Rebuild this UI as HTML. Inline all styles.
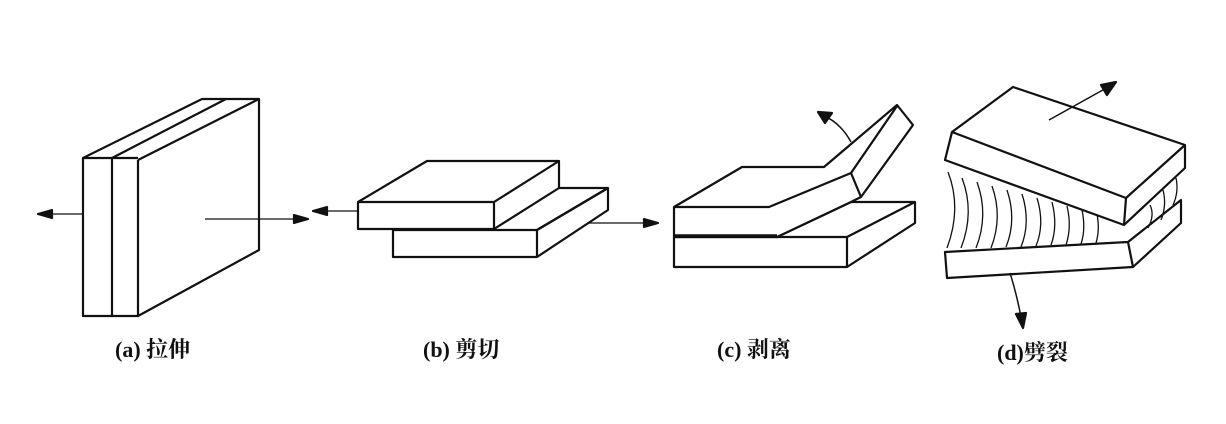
<!DOCTYPE html>
<html><head><meta charset="utf-8"><style>
html,body{margin:0;padding:0;background:#fff;}
svg{display:block}
text{font-family:"Liberation Serif","Noto Serif CJK SC",serif;font-size:22px;font-weight:bold;fill:#111}
</style></head><body>
<svg width="1226" height="424" viewBox="0 0 1226 424" xmlns="http://www.w3.org/2000/svg">
<g fill="#fff" stroke="#111" stroke-width="2.2" stroke-linejoin="round">
<!-- (a) -->
<polygon points="83,158 202,99 259,99 259,250 138,316 83,316"/>
<line x1="112" y1="158" x2="112" y2="316"/>
<line x1="138" y1="160" x2="138" y2="316"/>
<line x1="83" y1="158" x2="138" y2="158"/>
<line x1="112" y1="158" x2="226" y2="99"/>
<line x1="138" y1="160" x2="259" y2="99"/>
<line x1="38" y1="214" x2="83" y2="214" stroke-width="1.3"/>
<polygon points="38,214 52,210 52,218" fill="#111"/>
<line x1="205" y1="219" x2="308" y2="219" stroke-width="1.3"/>
<polygon points="308,219 294,215 294,223" fill="#111"/>
<!-- (b) -->
<polygon points="393,230 537,230 608,188 608,210 537,257 393,257"/>
<line x1="537" y1="230" x2="537" y2="257"/>
<line x1="537" y1="230" x2="608" y2="188"/>
<polygon points="358,202 427,161 559,161 559,188 494,229 358,229"/>
<line x1="494" y1="202" x2="559" y2="161"/>
<line x1="494" y1="202" x2="358" y2="202"/>
<line x1="494" y1="202" x2="494" y2="229"/>
<line x1="559" y1="188" x2="608" y2="188"/>
<line x1="313" y1="211" x2="358" y2="211" stroke-width="1.3"/>
<polygon points="313,211 327,207 327,215" fill="#111"/>
<line x1="587" y1="223" x2="658" y2="223" stroke-width="1.3"/>
<polygon points="658,223 644,219 644,227" fill="#111"/>
<!-- (c) -->
<polygon points="674,237 777,237 851,202 915,202 915,223 847,267 674,267"/>
<line x1="777" y1="237" x2="847" y2="237"/>
<line x1="847" y1="237" x2="915" y2="202"/>
<line x1="847" y1="237" x2="847" y2="267"/>
<polygon points="674,207 742,167 824,167 897,105 913,125 861,197 851,202 777,237 674,237"/>
<polyline points="674,207 769,207 851,173 897,106" fill="none"/>
<line x1="851" y1="173" x2="861" y2="197"/>
<line x1="674" y1="236" x2="777" y2="236" stroke-width="3.5"/>
<path d="M851,142 Q840,122 822,115" fill="none" stroke-width="1.5"/>
<polygon points="818,112 832,113 825,123" fill="#111"/>
<!-- (d) -->
<polygon points="945,252 1128,242 1181,200 1181,223 1133,267 947,278"/>
<line x1="1128" y1="242" x2="1133" y2="267"/>
<g fill="none" stroke-width="1.3">
<path d="M948,172 Q962,208 947,248"/>
<path d="M962,178 Q975,212 961,248"/>
<path d="M977,182 Q989,215 976,248"/>
<path d="M992,186 Q1003,217 991,248"/>
<path d="M1007,190 Q1017,220 1006,247"/>
<path d="M1022,194 Q1031,222 1021,247"/>
<path d="M1037,198 Q1045,224 1036,246"/>
<path d="M1052,202 Q1058,226 1051,245"/>
<path d="M1067,206 Q1072,227 1066,245"/>
<path d="M1082,210 Q1086,229 1081,244"/>
<path d="M1097,214 Q1100,230 1096,243"/>
<path d="M1150,205 Q1155,215 1148,228"/>
<path d="M1163,190 Q1167,205 1161,220"/>
<path d="M1176,178 Q1179,192 1173,205"/>
</g>
<polygon points="952,132 1013,87 1185,145 1185,168 1124,225 945,160"/>
<polyline points="952,132 1126,198 1185,145" fill="none"/>
<line x1="1126" y1="198" x2="1124" y2="225"/>
<line x1="1049" y1="120" x2="1110" y2="86" stroke-width="1.5"/>
<polygon points="1116,82 1101,85 1107,95" fill="#111"/>
<path d="M1010,273 Q1017,295 1022,322" fill="none" stroke-width="1.5"/>
<polygon points="1023,328 1016,314 1026,313" fill="#111"/>
</g>
<text x="115" y="357">(a) 拉伸</text>
<text x="423" y="357">(b) 剪切</text>
<text x="717" y="357">(c) 剥离</text>
<text x="997" y="360">(d)劈裂</text>
</svg>
</body></html>
